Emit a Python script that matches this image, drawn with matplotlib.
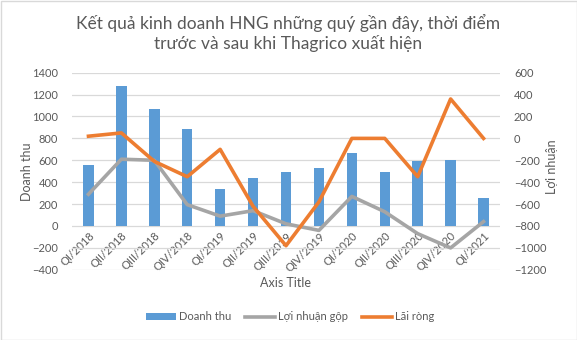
import matplotlib
matplotlib.use("Agg")
import matplotlib.pyplot as plt
from matplotlib.patches import Rectangle
import numpy as np

plt.rcParams["font.family"] = ["Lato", "DejaVu Sans"]

categories = ["QI/2018", "QII/2018", "QIII/2018", "QIV/2018", "QI/2019", "QII/2019",
              "QIII/2019", "QIV/2019", "QI/2020", "QII/2020", "QIII/2020", "QIV/2020", "QI/2021"]
doanh_thu = [560, 1280, 1070, 890, 340, 440, 495, 530, 670, 495, 595, 605, 260]
loi_nhuan_gop = [-510, -190, -200, -605, -710, -660, -780, -840, -530, -670, -870, -1000, -760]
lai_rong = [20, 50, -210, -350, -100, -620, -980, -580, 0, 0, -350, 360, 0]

title = "Kết quả kinh doanh HNG những quý gần đây, thời điểm\ntrước và sau khi Thagrico xuất hiện"
txt = "#595959"
grid_c = "#D9D9D9"

fig = plt.figure(figsize=(5.77, 3.40), dpi=100)
ax = fig.add_axes([72/577, 1-269.8/340, 428/577, (269.8-72.7)/340])
ax2 = ax.twinx()

x = np.arange(len(categories))
bars = ax.bar(x, doanh_thu, width=0.32, color="#5B9BD5", zorder=2, label="Doanh thu")
l1, = ax2.plot(x, loi_nhuan_gop, color="#A5A5A5", lw=2.6, zorder=3, label="Lợi nhuận gộp")
l2, = ax2.plot(x, lai_rong, color="#ED7D31", lw=2.6, zorder=3, label="Lãi ròng")

ax.set_zorder(1); ax2.set_zorder(2); ax.patch.set_visible(False)

ax.set_xlim(-0.5, len(categories)-0.5)
ax.set_ylim(-400, 1400)
ax.set_yticks(np.arange(-400, 1401, 200))
ax2.set_ylim(-1200, 600)
ax2.set_yticks(np.arange(-1200, 601, 200))

for a in (ax, ax2):
    for s in a.spines.values():
        s.set_visible(False)
ax.grid(axis="y", color=grid_c, lw=0.9, zorder=0)
ax.set_axisbelow(True)

ax.spines["bottom"].set_position(("data", 0))
ax.set_xticks(x)
ax.set_xticklabels(categories, rotation=45, ha="right", va="top", rotation_mode="anchor")
ax.tick_params(axis="x", length=0, pad=3, labelsize=8, labelcolor=txt)
ax.tick_params(axis="y", length=0, pad=10, labelsize=8, labelcolor=txt)
ax2.tick_params(axis="y", length=0, pad=10, labelsize=8, labelcolor=txt)
for lab in ax2.get_yticklabels():
    lab.set_horizontalalignment("left")

fig.text(27/577, 1-172/340, "Doanh thu", rotation=90, ha="center", va="center", fontsize=9, color=txt)
fig.text(552/577, 1-167/340, "Lợi nhuận", rotation=90, ha="center", va="center", fontsize=9, color=txt)
fig.text(286/577, 1-283/340, "Axis Title", ha="center", va="center", fontsize=9, color=txt)
fig.text(288/577, 1-33/340, title, ha="center", va="center", fontsize=12.5, color=txt, linespacing=1.25)

fig.legend([bars, l1, l2], ["Doanh thu", "Lợi nhuận gộp", "Lãi ròng"], loc="center",
           bbox_to_anchor=(290/577, 1-317/340), ncol=3, frameon=False, fontsize=8,
           labelcolor=txt, handlelength=2.7, handleheight=0.5, columnspacing=1.2, handletextpad=0.3)

fig.patches.append(Rectangle((0.5/577, 0.5/340), 1-1/577, 1-1/340, transform=fig.transFigure,
                             fill=False, edgecolor="#D9D9D9", lw=1))
fig.savefig("out.png", dpi=100)
